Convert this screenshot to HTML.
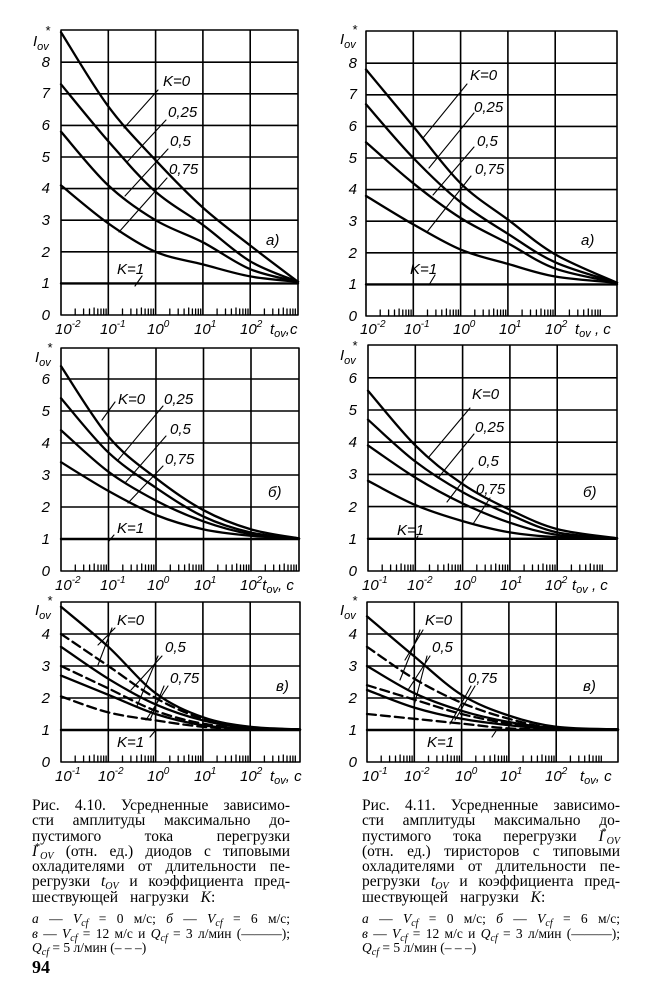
<!DOCTYPE html>
<html><head><meta charset="utf-8">
<style>
html,body{margin:0;padding:0;background:#fff;}
body{width:653px;height:1000px;position:relative;overflow:hidden;}
svg{position:absolute;left:0;top:0;}
.t{font-family:"Liberation Sans",sans-serif;font-style:italic;font-size:15px;fill:#000;}
.cap{position:absolute;font-family:"Liberation Serif",serif;font-size:15.5px;color:#000;width:258px;}
.cap div{height:15.3px;line-height:15.3px;white-space:normal;text-align:justify;text-align-last:justify;overflow:visible;}
.cap div.l{text-align:left;text-align-last:left;}
.cap div.s{font-size:13.5px;height:14.5px;line-height:14.5px;}
.cap i{font-style:italic;}
.cap .sb{font-size:10px;font-style:italic;position:relative;top:3px;}
.cap .sp{font-size:10px;position:relative;top:-6px;margin-left:-2px;}
</style></head><body>
<svg id="g" width="653" height="1000" viewBox="0 0 653 1000">
<g id="plots" fill="none" stroke="#000" stroke-linecap="round" stroke-linejoin="round"></g>
<g class="t">
<g text-anchor="end"><text x="50" y="320">0</text><text x="50" y="288">1</text><text x="50" y="257">2</text><text x="50" y="225">3</text><text x="50" y="193">4</text><text x="50" y="162">5</text><text x="50" y="130">6</text><text x="50" y="98">7</text><text x="50" y="67">8</text></g>
<text x="33" y="46">I<tspan font-size="11" dy="4">ov</tspan></text><text x="45" y="35" font-size="13">*</text>
<text x="55" y="334">10<tspan font-size="10" dy="-7">-2</tspan></text>
<text x="100" y="334">10<tspan font-size="10" dy="-7">-1</tspan></text>
<text x="147" y="334">10<tspan font-size="10" dy="-7">0</tspan></text>
<text x="194" y="334">10<tspan font-size="10" dy="-7">1</tspan></text>
<text x="240" y="334">10<tspan font-size="10" dy="-7">2</tspan></text>
<text x="270" y="334">t<tspan font-size="11" dy="3">ov</tspan><tspan dy="-3">,c</tspan></text>
<text x="163" y="86">K=0</text><text x="168" y="117">0,25</text><text x="170" y="146">0,5</text><text x="169" y="174">0,75</text><text x="117" y="274">K=1</text><text x="266" y="245">a)</text>
<g text-anchor="end"><text x="357" y="321">0</text><text x="357" y="289">1</text><text x="357" y="258">2</text><text x="357" y="226">3</text><text x="357" y="194">4</text><text x="357" y="163">5</text><text x="357" y="131">6</text><text x="357" y="99">7</text><text x="357" y="68">8</text></g>
<text x="340" y="44">I<tspan font-size="11" dy="4">ov</tspan></text><text x="352" y="34" font-size="13">*</text>
<text x="360" y="334">10<tspan font-size="10" dy="-7">-2</tspan></text>
<text x="404" y="334">10<tspan font-size="10" dy="-7">-1</tspan></text>
<text x="453" y="334">10<tspan font-size="10" dy="-7">0</tspan></text>
<text x="499" y="334">10<tspan font-size="10" dy="-7">1</tspan></text>
<text x="545" y="334">10<tspan font-size="10" dy="-7">2</tspan></text>
<text x="575" y="334">t<tspan font-size="11" dy="3">ov</tspan><tspan dy="-3"> , c</tspan></text>
<text x="470" y="80">K=0</text><text x="474" y="112">0,25</text><text x="477" y="146">0,5</text><text x="475" y="174">0,75</text><text x="410" y="274">K=1</text><text x="581" y="245">a)</text>
<g text-anchor="end"><text x="50" y="576">0</text><text x="50" y="544">1</text><text x="50" y="512">2</text><text x="50" y="480">3</text><text x="50" y="448">4</text><text x="50" y="416">5</text><text x="50" y="384">6</text></g>
<text x="35" y="362">I<tspan font-size="11" dy="4">ov</tspan></text><text x="47" y="352" font-size="13">*</text>
<text x="55" y="590">10<tspan font-size="10" dy="-7">-2</tspan></text>
<text x="100" y="590">10<tspan font-size="10" dy="-7">-1</tspan></text>
<text x="147" y="590">10<tspan font-size="10" dy="-7">0</tspan></text>
<text x="194" y="590">10<tspan font-size="10" dy="-7">1</tspan></text>
<text x="240" y="590">10<tspan font-size="10" dy="-7">2</tspan><tspan dy="7">t</tspan><tspan font-size="11" dy="3">ov</tspan><tspan dy="-3">, c</tspan></text>
<text x="118" y="404">K=0</text><text x="164" y="404">0,25</text><text x="170" y="434">0,5</text><text x="165" y="464">0,75</text><text x="117" y="533">K=1</text><text x="268" y="497">б)</text>
<g text-anchor="end"><text x="357" y="576">0</text><text x="357" y="544">1</text><text x="357" y="512">2</text><text x="357" y="479">3</text><text x="357" y="447">4</text><text x="357" y="415">5</text><text x="357" y="383">6</text></g>
<text x="340" y="360">I<tspan font-size="11" dy="4">ov</tspan></text><text x="352" y="350" font-size="13">*</text>
<text x="362" y="590">10<tspan font-size="10" dy="-7">-1</tspan></text>
<text x="407" y="590">10<tspan font-size="10" dy="-7">-2</tspan></text>
<text x="454" y="590">10<tspan font-size="10" dy="-7">0</tspan></text>
<text x="500" y="590">10<tspan font-size="10" dy="-7">1</tspan></text>
<text x="545" y="590">10<tspan font-size="10" dy="-7">2</tspan></text>
<text x="572" y="590">t<tspan font-size="11" dy="3">ov</tspan><tspan dy="-3"> , c</tspan></text>
<text x="472" y="399">K=0</text><text x="475" y="432">0,25</text><text x="478" y="466">0,5</text><text x="476" y="494">0,75</text><text x="397" y="535">K=1</text><text x="583" y="497">б)</text>
<g text-anchor="end"><text x="50" y="767">0</text><text x="50" y="735">1</text><text x="50" y="703">2</text><text x="50" y="671">3</text><text x="50" y="639">4</text></g>
<text x="35" y="615">I<tspan font-size="11" dy="4">ov</tspan></text><text x="47" y="605" font-size="13">*</text>
<text x="55" y="781">10<tspan font-size="10" dy="-7">-1</tspan></text>
<text x="98" y="781">10<tspan font-size="10" dy="-7">-2</tspan></text>
<text x="147" y="781">10<tspan font-size="10" dy="-7">0</tspan></text>
<text x="194" y="781">10<tspan font-size="10" dy="-7">1</tspan></text>
<text x="240" y="781">10<tspan font-size="10" dy="-7">2</tspan></text>
<text x="270" y="781">t<tspan font-size="11" dy="3">ov</tspan><tspan dy="-3">, c</tspan></text>
<text x="117" y="625">K=0</text><text x="165" y="652">0,5</text><text x="170" y="683">0,75</text><text x="117" y="747">K=1</text><text x="276" y="691">в)</text>
<g text-anchor="end"><text x="357" y="767">0</text><text x="357" y="735">1</text><text x="357" y="703">2</text><text x="357" y="671">3</text><text x="357" y="639">4</text></g>
<text x="340" y="615">I<tspan font-size="11" dy="4">ov</tspan></text><text x="352" y="605" font-size="13">*</text>
<text x="362" y="781">10<tspan font-size="10" dy="-7">-1</tspan></text>
<text x="404" y="781">10<tspan font-size="10" dy="-7">-2</tspan></text>
<text x="455" y="781">10<tspan font-size="10" dy="-7">0</tspan></text>
<text x="500" y="781">10<tspan font-size="10" dy="-7">1</tspan></text>
<text x="545" y="781">10<tspan font-size="10" dy="-7">2</tspan></text>
<text x="580" y="781">t<tspan font-size="11" dy="3">ov</tspan><tspan dy="-3">, c</tspan></text>
<text x="425" y="625">K=0</text><text x="432" y="652">0,5</text><text x="468" y="683">0,75</text><text x="427" y="747">K=1</text><text x="583" y="691">в)</text>
</g>
</svg>

<div class="cap" style="left:32px;top:798px;">
<div>Рис. 4.10. Усредненные зависимо-</div>
<div>сти амплитуды максимально до-</div>
<div>пустимого тока перегрузки</div>
<div><i>I</i><span class="sp">*</span><span class="sb">OV</span> (отн. ед.) диодов с типовыми</div>
<div>охладителями от длительности пе-</div>
<div>регрузки <i>t</i><span class="sb">OV</span> и коэффициента пред-</div>
<div class="l" style="word-spacing:8px">шествующей нагрузки <i>K</i>:</div>
<div class="s" style="margin-top:7px"><i>а</i> — <i>V</i><span class="sb">cf</span> = 0 м/с; <i>б</i> — <i>V</i><span class="sb">cf</span> = 6 м/с;</div>
<div class="s"><i>в</i> — <i>V</i><span class="sb">cf</span> = 12 м/с и <i>Q</i><span class="sb">cf</span> = 3 л/мин (———);</div>
<div class="s l"><i>Q</i><span class="sb">cf</span> = 5 л/мин (– – –)</div>
</div>
<div style="position:absolute;left:32px;top:957px;font-family:'Liberation Serif',serif;font-weight:bold;font-size:18px;">94</div>
<div class="cap" style="left:362px;top:798px;">
<div>Рис. 4.11. Усредненные зависимо-</div>
<div>сти амплитуды максимально до-</div>
<div>пустимого тока перегрузки <i>I</i><span class="sp">*</span><span class="sb">OV</span></div>
<div>(отн. ед.) тиристоров с типовыми</div>
<div>охладителями от длительности пе-</div>
<div>регрузки <i>t</i><span class="sb">OV</span> и коэффициента пред-</div>
<div class="l" style="word-spacing:8px">шествующей нагрузки <i>K</i>:</div>
<div class="s" style="margin-top:7px"><i>а</i> — <i>V</i><span class="sb">cf</span> = 0 м/с; <i>б</i> — <i>V</i><span class="sb">cf</span> = 6 м/с;</div>
<div class="s"><i>в</i> — <i>V</i><span class="sb">cf</span> = 12 м/с и <i>Q</i><span class="sb">cf</span> = 3 л/мин (———);</div>
<div class="s l"><i>Q</i><span class="sb">cf</span> = 5 л/мин (– – –)</div>
</div>

<script>
(function(){
var G=document.getElementById('plots'),NS='http://www.w3.org/2000/svg';
function el(d,w,dash){var p=document.createElementNS(NS,'path');p.setAttribute('d',d);p.setAttribute('stroke-width',w);if(dash)p.setAttribute('stroke-dasharray',dash);G.appendChild(p);}
function smooth(pts){var d='M'+pts[0][0]+','+pts[0][1];for(var i=0;i<pts.length-1;i++){var p0=pts[i-1]||pts[i],p1=pts[i],p2=pts[i+1],p3=pts[i+2]||p2;
d+=' C'+(p1[0]+(p2[0]-p0[0])/6).toFixed(1)+','+(p1[1]+(p2[1]-p0[1])/6).toFixed(1)+' '+(p2[0]-(p3[0]-p1[0])/6).toFixed(1)+','+(p2[1]-(p3[1]-p1[1])/6).toFixed(1)+' '+p2[0]+','+p2[1];}return d;}
function chart(c){
 var L=c.L,R=c.R,d=c.d,y0=c.y0,s=c.s,T=c.T,gd='';
 gd+='M'+L+','+T+'H'+R+'V'+y0+'H'+L+'Z';
 for(var k=1;k<=4;k++){var x=L+k*d;gd+='M'+x.toFixed(1)+','+T+'V'+y0;}
 for(var n=1;y0-n*s>T+3;n++){var y=(y0-n*s).toFixed(1);gd+='M'+L+','+y+'H'+R;}
 el(gd,1.6);
 var tk='';
 for(var k=0;k<5;k++){for(var m=2;m<=9;m++){var x=L+(k+Math.log10(m))*d;if(x<R-1)tk+='M'+x.toFixed(1)+','+y0+'v-'+(m==5?7:6);}}
 el(tk,1.3);
 el('M'+L+','+(y0-s)+'H'+R,2.4);
 c.cv.forEach(function(cv){var v=cv.v,pts=[];
  for(var i=0;i<v.length-1;i++)pts.push([+(L+i*d).toFixed(1),+(y0-v[i]*s).toFixed(1)]);
  pts.push([R,+(y0-v[v.length-1]*s).toFixed(1)]);
  el(smooth(pts),2.3,cv.dash?'9,5':null);});
 el(c.lead,1.1);
}
function C(v,dash){return {v:v,dash:dash};}
chart({L:61,R:298,d:47.3,y0:315,s:31.6,T:30,cv:[
 C([8.95,6.6,4.9,3.4,2.2,1.05]),
 C([7.3,5.5,3.9,2.85,1.7,1.05]),
 C([5.8,4.1,3.0,2.3,1.45,1.05]),
 C([4.1,2.9,2.0,1.6,1.22,1.05])],
 lead:'M158,90L124,128M166,120L127,162M168,149L125,196M167,178L119,232M142,276L135,286'});
chart({L:366,R:617,d:47.3,y0:316,s:31.6,T:31,cv:[
 C([7.8,6.0,4.2,3.05,1.95,1.05]),
 C([6.7,5.0,3.6,2.6,1.7,1.05]),
 C([5.5,4.2,3.1,2.3,1.5,1.05]),
 C([3.8,2.9,2.1,1.65,1.25,1.05])],
 lead:'M467,84L423,138M474,113L429,168M474,147L433,195M471,176L427,232M435,275L429,285'});
chart({L:61,R:299,d:47.5,y0:571,s:32,T:348,cv:[
 C([6.4,4.2,2.9,1.9,1.3,1.02]),
 C([5.4,3.7,2.6,1.7,1.2,1.02]),
 C([4.4,3.1,2.2,1.55,1.15,1.02]),
 C([3.4,2.5,1.75,1.3,1.1,1.02])],
 lead:'M115,402L102,420M163,406L118,460M166,436L125,483M163,466L128,503M114,535L109,541'});
chart({L:368,R:617,d:47.3,y0:571,s:32.2,T:345,cv:[
 C([5.6,3.9,2.7,1.9,1.3,1.02]),
 C([4.7,3.4,2.45,1.75,1.2,1.02]),
 C([3.9,2.9,2.1,1.5,1.12,1.02]),
 C([2.8,2.05,1.55,1.2,1.05,1.02])],
 lead:'M470,408L428,458M474,434L438,478M473,468L447,502M490,498L473,524M418,536L415,541'});
chart({L:61,R:300,d:47.3,y0:762,s:32,T:602,cv:[
 C([4.85,3.6,2.15,1.4,1.1,1.02]),
 C([4.0,3.0,2.0,1.35,1.08,1.02],1),
 C([3.6,2.6,1.8,1.3,1.06,1.02]),
 C([3.0,2.3,1.6,1.2,1.05,1.02],1),
 C([2.7,2.1,1.5,1.15,1.04,1.02]),
 C([2.05,1.55,1.3,1.1,1.02,1.02],1)],
 lead:'M115,628L98,645M112,628L98,665M162,656L131,690M158,656L137,706M168,686L146,720M164,686L150,720M150,737L155,731'});
chart({L:367,R:618,d:47.3,y0:762,s:32,T:602,cv:[
 C([4.55,3.3,2.1,1.45,1.1,1.02]),
 C([3.6,2.6,1.85,1.35,1.05,1.02],1),
 C([3.0,2.15,1.6,1.25,1.05,1.02]),
 C([2.4,1.95,1.5,1.2,1.04,1.02],1),
 C([2.25,1.7,1.35,1.15,1.03,1.02]),
 C([1.5,1.35,1.2,1.05,1.02,1.02],1)],
 lead:'M423,630L405,660M420,630L400,680M430,656L408,690M427,656L414,706M475,686L455,720M471,686L450,724M492,737L496,731'});
})();
</script>
</body></html>
